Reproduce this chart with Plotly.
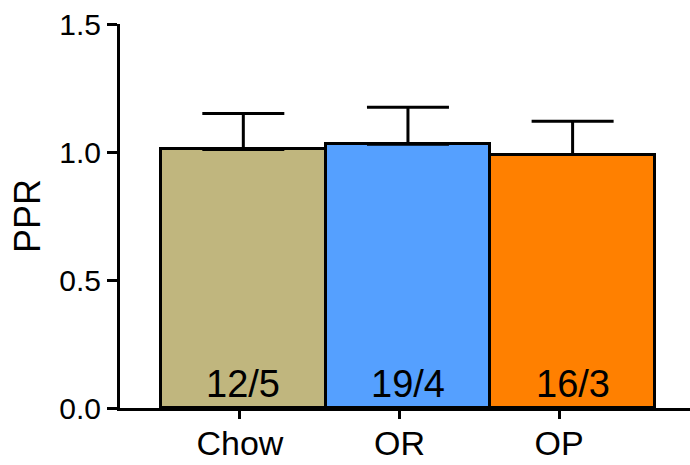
import plotly.graph_objects as go

categories = ["Chow", "OR", "OP"]
ppr_mean = [1.01, 1.03, 0.99]
ppr_sem = [0.14, 0.145, 0.13]
n_labels = ["12/5", "19/4", "16/3"]
bar_colors = ["#C0B67E", "#55A0FF", "#FF8000"]
y_ticks = [0.0, 0.5, 1.0, 1.5]

FONT = "Arial, Liberation Sans, sans-serif"

fig = go.Figure()
fig.add_trace(go.Bar(
    x=categories, y=ppr_mean, width=1,
    marker=dict(color=bar_colors, line=dict(color="black", width=3)),
    error_y=dict(type="data", array=ppr_sem, arrayminus=[0] * len(ppr_sem),
                 symmetric=False, color="black", thickness=3, width=41),
    showlegend=False, hoverinfo="skip",
))
# invisible trace to hold category ticks (offset tick axis, as in the original)
fig.add_trace(go.Scatter(x=categories, y=ppr_mean, xaxis="x2", mode="markers",
                         marker=dict(opacity=0), hoverinfo="skip", showlegend=False))

for cat, lab in zip(categories, n_labels):
    fig.add_annotation(x=cat, y=0, xref="x", yref="y", text=lab, showarrow=False,
                       yanchor="bottom", yshift=1,
                       font=dict(family=FONT, size=38, color="black"))

fig.update_layout(
    width=690, height=465,
    margin=dict(l=120, r=0, t=24, b=57, autoexpand=False),
    plot_bgcolor="white", paper_bgcolor="white",
    font=dict(family=FONT, color="black"),
    bargap=0,
    xaxis=dict(type="category", range=[-0.749, 2.713], showline=True, linecolor="black",
               linewidth=3, showticklabels=False, ticks="", showgrid=False, zeroline=False,
               automargin=False),
    xaxis2=dict(type="category", overlaying="x", side="bottom", anchor="y",
                range=[-0.752, 2.821], showline=False, ticks="outside", ticklen=10,
                tickwidth=3, tickcolor="black", showgrid=False, zeroline=False,
                automargin=False, ticklabelstandoff=-5,
                tickfont=dict(family=FONT, size=34, color="black")),
    yaxis=dict(range=[0, 1.5], tickvals=y_ticks, tickformat=".1f", showline=True,
               linecolor="black", linewidth=3, ticks="outside", ticklen=10, tickwidth=3,
               tickcolor="black", showgrid=False, zeroline=False, automargin=False,
               tickfont=dict(family=FONT, size=30, color="black"),
               title=dict(text="PPR", font=dict(family=FONT, size=36, color="black"), standoff=8)),
)

fig.write_html("out.html", config={"displayModeBar": False},
               post_script="document.body.style.margin='0';")
